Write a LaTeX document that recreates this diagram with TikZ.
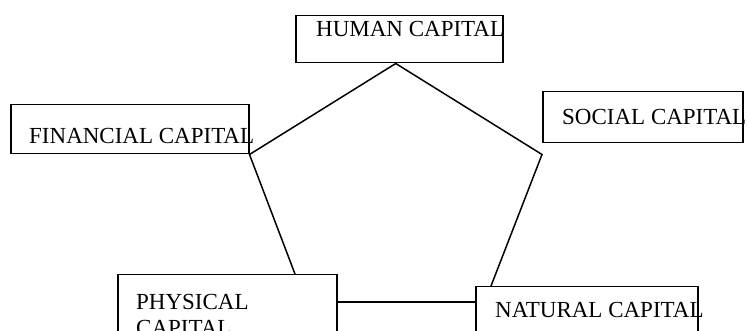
\documentclass[tikz,border=0pt]{standalone}
\usepackage{fontspec}
\setmainfont{Liberation Serif}

\begin{document}
\begin{tikzpicture}[x=1pt,y=-1pt,
        capbox/.style={draw,line width=1.5pt,inner sep=0pt,anchor=north west},
        captext/.style={anchor=base west,inner sep=0pt,align=left,
            font=\fontsize{23}{26}\selectfont}]
            \useasboundingbox (0,0) rectangle (748,331);
            \clip (0,0) rectangle (748,331);

            % boxes
            \node (human) at (295,15) [capbox,minimum width=207pt,minimum height=47pt] {};
            \node (financial) at (10,104) [capbox,minimum width=238pt,minimum height=49pt] {};
            \node (social) at (542,91) [capbox,minimum width=200pt,minimum height=51pt] {};
            \node (physical) at (117,274) [capbox,minimum width=219pt,minimum height=80pt] {};
            \node (natural) at (475,286) [capbox,minimum width=222pt,minimum height=80pt] {};

            % labels
            \node (humanlbl) at (316,37) [captext] {HUMAN CAPITAL};
            \node (financiallbl) at (29,144) [captext] {FINANCIAL CAPITAL};
            \node (sociallbl) at (562,125) [captext] {SOCIAL CAPITAL};
            \node (physicallbl) at (136,336) [captext] {PHYSICAL\\CAPITAL};
            \node (naturallbl) at (495,318) [captext] {NATURAL CAPITAL};

            % pentagon
            \coordinate (ptop) at ([xshift=-3.5pt]human.south);
            \coordinate (pright) at ([yshift=-11pt]social.south west);
            \coordinate (pphys) at ([xshift=178pt]physical.north west);
            \coordinate (pnat) at ([xshift=16pt]natural.north west);

            \draw[line width=1.5pt] (ptop) -- (financial.south east) -- (pphys);
            \draw[line width=1.5pt] (ptop) -- (pright) -- (pnat);
            \draw[line width=1.5pt] ([yshift=-28pt]physical.north east) -- ([yshift=-16pt]natural.north west);

        \end{tikzpicture}
\end{document}
